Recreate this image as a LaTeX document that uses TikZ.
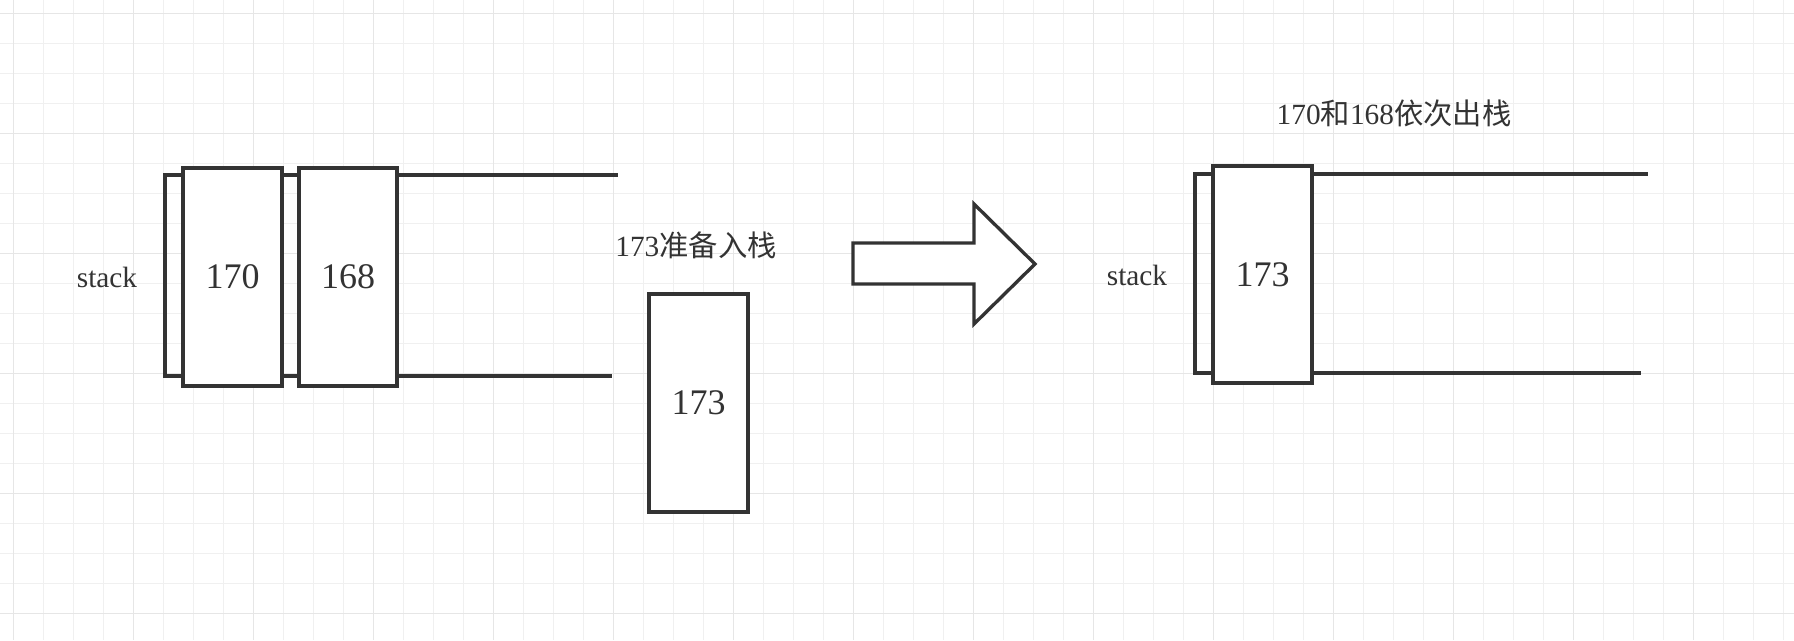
\documentclass[tikz,border=0pt]{standalone}
\usepackage{fontspec}
\setmainfont{Liberation Serif}
\newfontfamily\cjk{Noto Sans CJK SC}
\definecolor{inkc}{HTML}{333333}
\definecolor{gridminor}{HTML}{F0F0F0}
\definecolor{gridmajor}{HTML}{E6E6E6}
\begin{document}
\begin{tikzpicture}[x=0.75pt,y=-0.75pt,
  ink/.style={draw=inkc, line width=2.5pt},
  box/.style={ink, fill=white, inner sep=0pt, font=\fontsize{27}{30}\selectfont, text=inkc},
  lbl/.style={inner sep=0pt, font=\fontsize{22}{26}\selectfont, text=inkc},
  rail/.style={ink},
  minorgrid/.style={draw=gridminor, line width=0.75pt},
  majorgrid/.style={draw=gridmajor, line width=1pt}]
\useasboundingbox (0,0) rectangle (1794,640);
\fill[white] (0,0) rectangle (1794,640);
% grid
\foreach \i in {0,...,59} \draw[minorgrid] ({13.333+30*\i},0) -- ({13.333+30*\i},640);
\foreach \j in {0,...,20} \draw[minorgrid] (0,{13.333+30*\j}) -- (1794,{13.333+30*\j});
\foreach \i in {0,...,14} \draw[majorgrid] ({13.333+120*\i},0) -- ({13.333+120*\i},640);
\foreach \j in {0,...,5} \draw[majorgrid] (0,{13.333+120*\j}) -- (1794,{13.333+120*\j});

% left stack
\node[box, minimum width=74.25pt, minimum height=163.5pt] (b170) at (232.5,277) {170};
\node[box, minimum width=73.5pt, minimum height=163.5pt] (b168) at (348,277) {168};
\coordinate (Ltop) at (165,175);
\coordinate (Lbot) at (165,376);
\coordinate (LtopEnd) at (618,175);
\coordinate (LbotEnd) at (612,376);
\draw[rail] (b170.west |- Ltop) -- (Ltop) -- (Lbot) -- (b170.west |- Lbot);
\draw[rail] (b170.east |- Ltop) -- (b168.west |- Ltop);
\draw[rail] (b170.east |- Lbot) -- (b168.west |- Lbot);
\draw[rail] (b168.east |- Ltop) -- (LtopEnd);
\draw[rail] (b168.east |- Lbot) -- (LbotEnd);
\node[lbl] (stackL) at (107,277) {stack};

% incoming element
\node[lbl] (lblPush) at (696,245) {173{\cjk 准备入栈}};
\node[box, minimum width=74.25pt, minimum height=163.5pt] (b173a) at (698.5,403) {173};

% big arrow
\draw[ink, fill=white, line join=miter] (853,243) -- (974,243) -- (974,204) -- (1035,264)
  -- (974,324) -- (974,284) -- (853,284) -- cycle;

% right stack
\node[lbl] (lblPop) at (1394,113) {170{\cjk 和}168{\cjk 依次出栈}};
\node[box, minimum width=74.25pt, minimum height=162.75pt] (b173b) at (1262.5,274.5) {173};
\coordinate (Rtop) at (1195,174);
\coordinate (Rbot) at (1195,373);
\coordinate (RtopEnd) at (1648,174);
\coordinate (RbotEnd) at (1641,373);
\draw[rail] (b173b.west |- Rtop) -- (Rtop) -- (Rbot) -- (b173b.west |- Rbot);
\draw[rail] (b173b.east |- Rtop) -- (RtopEnd);
\draw[rail] (b173b.east |- Rbot) -- (RbotEnd);
\node[lbl] (stackR) at (1137,275) {stack};
\end{tikzpicture}
\end{document}
